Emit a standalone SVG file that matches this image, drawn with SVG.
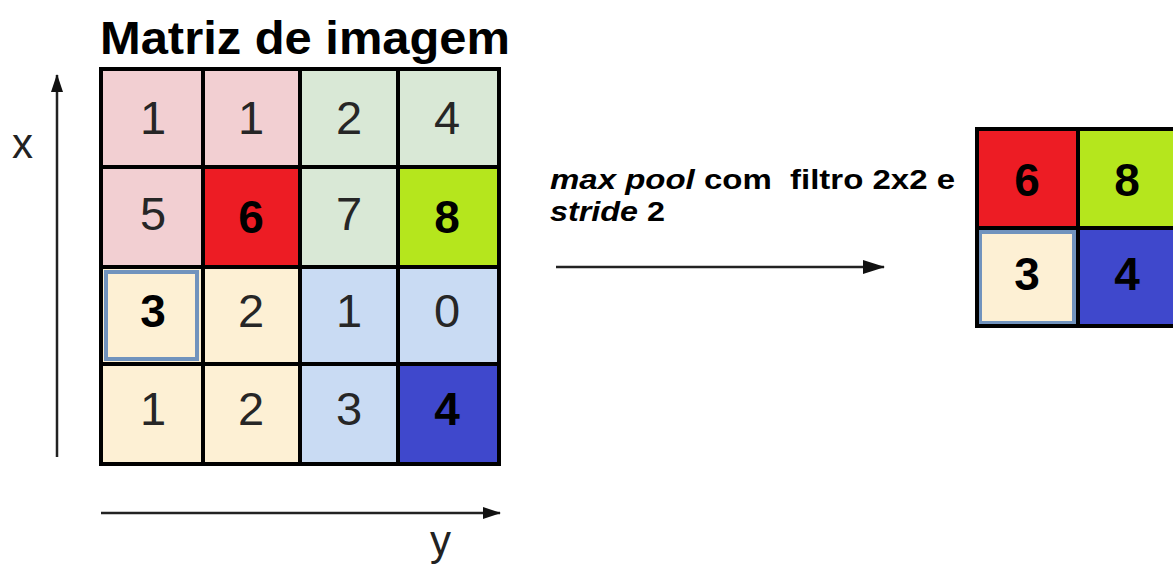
<svg xmlns="http://www.w3.org/2000/svg" width="1173" height="566" viewBox="0 0 1173 566">
  <style>
    .t { font-family: "Liberation Sans", Arial, sans-serif; }
    .num { font-family: "Liberation Sans", Arial, sans-serif; font-size: 47px; fill: #262626; text-anchor: middle; }
    .big { font-family: "Liberation Sans", Arial, sans-serif; font-size: 46px; font-weight: bold; fill: #000; text-anchor: middle; }
    .grid { fill: none; stroke: #000; stroke-width: 4; }
    .axis { stroke: #222; stroke-width: 2.5; fill: none; }
  </style>
  <defs>
    <marker id="ah" markerWidth="18" markerHeight="12" refX="17" refY="6" orient="auto" markerUnits="userSpaceOnUse">
      <path d="M0,0 L18,6 L0,12 Z" fill="#111"/>
    </marker>
    <marker id="ahWide" markerWidth="22" markerHeight="14" refX="21" refY="7" orient="auto" markerUnits="userSpaceOnUse">
      <path d="M0,0 L22,7 L0,14 Z" fill="#111"/>
    </marker>
  </defs>
  <rect width="1173" height="566" fill="#fff"/>

  <text class="t" x="100" y="54" font-size="47" font-weight="bold" fill="#000" textLength="410" lengthAdjust="spacingAndGlyphs">Matriz de imagem</text>

  <!-- input matrix -->
  <g id="input-matrix">
    <rect x="100" y="68" width="103" height="99" fill="#f2cfd2"/>
    <rect x="203" y="68" width="97" height="99" fill="#f2cfd2"/>
    <rect x="300" y="68" width="98" height="99" fill="#d9e8d6"/>
    <rect x="398" y="68" width="102" height="99" fill="#d9e8d6"/>
    <rect x="100" y="167" width="103" height="100" fill="#f2cfd2"/>
    <rect x="203" y="167" width="97" height="100" fill="#ed1c24"/>
    <rect x="300" y="167" width="98" height="100" fill="#d9e8d6"/>
    <rect x="398" y="167" width="102" height="100" fill="#b5e61d"/>
    <rect x="100" y="267" width="103" height="97" fill="#fdf0d4"/>
    <rect x="203" y="267" width="97" height="97" fill="#fdf0d4"/>
    <rect x="300" y="267" width="98" height="97" fill="#c9dbf3"/>
    <rect x="398" y="267" width="102" height="97" fill="#c9dbf3"/>
    <rect x="100" y="364" width="103" height="101" fill="#fdf0d4"/>
    <rect x="203" y="364" width="97" height="101" fill="#fdf0d4"/>
    <rect x="300" y="364" width="98" height="101" fill="#c9dbf3"/>
    <rect x="398" y="364" width="102" height="101" fill="#3f48cc"/>
    <!-- highlighted cell outline -->
    <rect x="106" y="272" width="91" height="87" fill="none" stroke="#7193bd" stroke-width="4"/>
    <!-- grid lines -->
    <rect x="101" y="69" width="398" height="395" class="grid"/>
    <path d="M203,68 V465 M300,68 V465 M398,68 V465 M100,167 H500 M100,267 H500 M100,364 H500" class="grid"/>
    <!-- values -->
    <text class="num" x="153" y="134">1</text>
    <text class="num" x="251" y="134">1</text>
    <text class="num" x="349" y="134">2</text>
    <text class="num" x="447" y="134">4</text>
    <text class="num" x="153" y="230">5</text>
    <text class="big" x="251" y="233">6</text>
    <text class="num" x="349" y="230">7</text>
    <text class="big" x="447" y="233">8</text>
    <text class="big" x="153" y="327">3</text>
    <text class="num" x="251" y="327">2</text>
    <text class="num" x="349" y="327">1</text>
    <text class="num" x="447" y="327">0</text>
    <text class="num" x="153" y="425">1</text>
    <text class="num" x="251" y="425">2</text>
    <text class="num" x="349" y="425">3</text>
    <text class="big" x="447" y="425">4</text>
  </g>

  <!-- pooled output -->
  <g id="output-matrix">
    <rect x="975" y="127" width="103" height="101" fill="#ed1c24"/>
    <rect x="1078" y="127" width="100" height="101" fill="#b5e61d"/>
    <rect x="975" y="228" width="103" height="100" fill="#fdf0d4"/>
    <rect x="1078" y="228" width="100" height="100" fill="#3f48cc"/>
    <rect x="980" y="232" width="94" height="91" fill="none" stroke="#7193bd" stroke-width="4"/>
    <rect x="977" y="129" width="200" height="197" class="grid"/>
    <path d="M1078,127 V328 M975,228 H1175" class="grid"/>
    <text class="big" x="1027" y="196">6</text>
    <text class="big" x="1127" y="196">8</text>
    <text class="big" x="1027" y="290">3</text>
    <text class="big" x="1127" y="290">4</text>
  </g>

  <g id="connectors">
    <line x1="57" y1="457" x2="57" y2="75" class="axis" marker-end="url(#ah)"/>
    <line x1="101" y1="513" x2="500" y2="513" class="axis" marker-end="url(#ah)"/>
    <line x1="556" y1="267" x2="884" y2="267" class="axis" marker-end="url(#ahWide)"/>
  </g>

  <g id="labels">
    <text class="t" x="12" y="158" font-size="42" fill="#222">x</text>
    <text class="t" x="430" y="555" font-size="42" fill="#222">y</text>
    <text class="t" x="550" y="189" font-size="28" font-weight="bold" fill="#000" xml:space="preserve" textLength="405" lengthAdjust="spacingAndGlyphs"><tspan font-style="italic">max pool</tspan> com  filtro 2x2 e</text>
    <text class="t" x="550" y="221" font-size="28" font-weight="bold" fill="#000" textLength="115" lengthAdjust="spacingAndGlyphs"><tspan font-style="italic">stride</tspan> 2</text>
  </g>
</svg>
